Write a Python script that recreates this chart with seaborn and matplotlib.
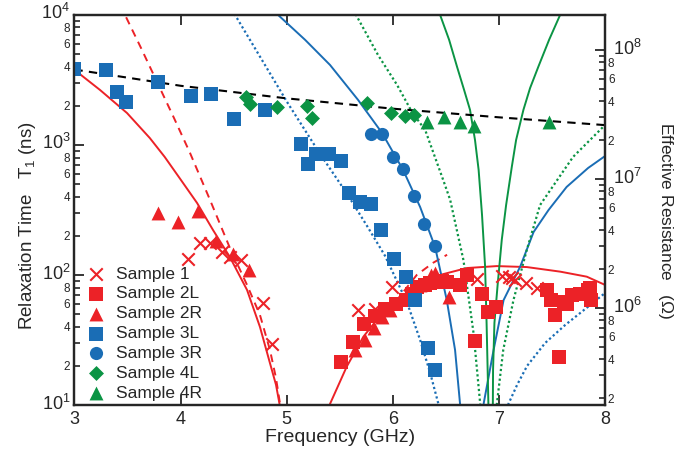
import numpy as np
import pandas as pd
import matplotlib
matplotlib.use("Agg")
from matplotlib import pyplot as plt
from matplotlib import ticker
from matplotlib import transforms
import seaborn as sns

s1_f = [4.07, 4.18, 4.28, 4.39, 4.47, 4.57, 4.78, 4.86,
        5.67, 5.83, 5.99, 6.79, 7.03, 7.09, 7.12, 7.15, 7.25, 7.36]
s1_t = [132, 177, 177, 151, 138, 130, 60.5, 29.2,
        54, 55, 81, 93, 99, 96, 95, 91, 86, 79]

s2l_f = [5.51, 5.62, 5.73, 5.83, 5.93, 6.03, 6.12, 6.18, 6.23, 6.30, 6.35, 6.41,
         6.46, 6.51, 6.63, 6.70, 6.77, 6.84, 6.90, 6.97, 7.45, 7.49, 7.53, 7.57,
         7.61, 7.64, 7.69, 7.76, 7.84, 7.86, 7.87]
s2l_t = [21.5, 30.7, 42.3, 48.4, 55, 60, 64, 72, 81, 84, 86, 89,
         90, 89, 83, 100, 31, 72, 52, 57, 77, 64, 49, 23.5,
         62, 60, 70, 72, 77, 79, 64]

s2r_f = [3.79, 3.98, 4.16, 4.33, 4.49, 4.64,
         5.64, 5.74, 5.82, 5.90, 5.97, 6.12, 6.26, 6.36, 6.40, 6.44, 6.53]
s2r_t = [299, 257, 310, 182, 145, 109,
         26.5, 31.6, 39.4, 47.3, 53.7, 69, 84, 100, 104, 91, 68]

s3l_f = [3.00, 3.30, 3.40, 3.49, 3.79, 4.10, 4.29, 4.50, 4.80, 5.13, 5.20, 5.28,
         5.40, 5.51, 5.59, 5.69, 5.79, 5.89, 6.01, 6.12, 6.21, 6.33, 6.40]
s3l_t = [3840, 3770, 2570, 2150, 3070, 2360, 2470, 1580, 1840, 1020, 714, 847,
         847, 756, 430, 366, 350, 222, 132, 97, 64, 27.6, 18.6]

s3r_f = [5.79, 5.90, 6.00, 6.10, 6.20, 6.29, 6.40]
s3r_t = [1210, 1210, 813, 658, 408, 245, 167]

s4l_f = [4.62, 4.65, 4.91, 5.19, 5.24, 5.76, 5.98, 6.11, 6.20]
s4l_t = [2330, 2060, 1970, 2000, 1620, 2110, 1750, 1670, 1700]

s4r_f = [6.32, 6.48, 6.63, 6.76, 7.47]
s4r_t = [1510, 1630, 1510, 1400, 1490]

# ---- model curves ----
blk_f = [3.0, 4.0, 5.0, 6.0, 7.0, 8.0]
blk_t = [3800, 2850, 2280, 1900, 1630, 1420]

red_sl_f = [3.00, 3.24, 3.495, 3.71, 3.85, 3.99, 4.155, 4.305, 4.465, 4.626,
            4.748, 4.842, 4.899, 4.932, 4.946]
red_sl_t = [3780, 2650, 1760, 1130, 809, 557, 358, 222, 137, 76.7,
            39.8, 21, 14.3, 10.2, 8.4]
red_sr_f = [5.389, 5.408, 5.565, 5.722, 5.91, 6.161, 6.444, 6.696, 6.979,
            7.262, 7.578, 7.827, 8.0]
red_sr_t = [8.4, 10.2, 19.7, 33.5, 52.2, 76.7, 100, 113, 117,
            115, 106, 97, 83.8]
red_dl_f = [3.43, 3.476, 3.627, 3.778, 3.938, 4.089, 4.277, 4.465, 4.626,
            4.748, 4.842, 4.899, 4.937, 4.951]
red_dl_t = [11900, 10000, 5570, 3050, 1610, 867, 378, 161, 83.8,
            49.2, 26.5, 16.1, 10.2, 8.4]
red_dr_f = [5.832, 6.037, 6.225, 6.379, 6.511]
red_dr_t = [45, 64, 100, 124, 143]

blu_sl_f = [4.88, 4.918, 5.173, 5.408, 5.672, 5.898, 6.096, 6.257, 6.398,
            6.508, 6.586, 6.633, 6.643]
blu_sl_t = [11900, 10000, 6430, 4120, 2220, 1237, 643, 333, 164,
            64, 26.5, 10.2, 8.4]
blu_sr_f = [6.845, 6.855, 6.949, 7.043, 7.20, 7.326, 7.467, 7.637, 7.84, 8.0]
blu_sr_t = [8.4, 10.2, 26.5, 64, 116, 214, 316, 475, 665, 822]
blu_dl_f = [4.466, 4.513, 5.003, 5.314, 5.569, 5.757, 5.927, 6.135, 6.257,
            6.352, 6.429, 6.445]
blu_dl_t = [11900, 10000, 2140, 853, 420, 238, 140, 61, 31.6,
            17.6, 10.2, 8.4]
blu_dr_f = [7.076, 7.089, 7.171, 7.265, 7.435, 7.623, 7.859, 8.0]
blu_dr_t = [8.4, 10.2, 14.3, 20, 30, 41.2, 58.7, 72.8]

grn_sl_f = [6.426, 6.445, 6.53, 6.605, 6.671, 6.727, 6.774, 6.808, 6.84,
            6.869, 6.883, 6.893, 6.90, 6.902]
grn_sl_t = [11900, 10000, 6430, 3980, 2650, 1860, 1090, 643, 290,
            116, 42.8, 18.6, 10.2, 8.4]
grn_sr_f = [7.604, 7.576, 7.472, 7.371, 7.293, 7.23, 7.161, 7.121, 7.067,
            7.026, 6.987, 6.957, 6.944, 6.942, 6.94]
grn_sr_t = [11900, 10000, 6430, 4000, 2740, 1860, 1090, 681, 345,
            186, 83.8, 42.8, 18.6, 10.2, 8.4]
grn_dl_f = [5.615, 5.653, 5.86, 6.04, 6.18, 6.305, 6.474, 6.54, 6.665,
            6.76, 6.823, 6.833]
grn_dl_t = [11900, 10000, 4920, 2890, 1790, 1300, 538, 378, 130,
            35.8, 10.2, 8.4]
grn_dr_f = [6.973, 6.98, 7.04, 7.136, 7.262, 7.387, 7.698, 8.0]
grn_dr_t = [8.4, 10.2, 26.5, 64, 156, 345, 809, 1426]

RED = "#ec2227"
BLUE = "#1a6db5"
GREEN = "#0b9444"

sns.set_style("ticks")
plt.rcParams["font.family"] = ["Liberation Sans", "DejaVu Sans"]
plt.rcParams["mathtext.fontset"] = "custom"
plt.rcParams["mathtext.rm"] = "Liberation Sans"
plt.rcParams["mathtext.it"] = "Liberation Sans:italic"
plt.rcParams["mathtext.bf"] = "Liberation Sans:bold"

fig = plt.figure(figsize=(6.83, 4.51), dpi=100)
ax = fig.add_axes([0.109, 0.102, 0.777, 0.865])
ax.set_yscale("log")

def curve(f, t, color, ls, lw=1.4):
    d = pd.DataFrame({"f": f, "t": t})
    sns.lineplot(data=d, x="f", y="t", sort=False, estimator=None, color=color,
                 linestyle=ls, linewidth=lw, ax=ax, zorder=2)

curve(red_sl_f, red_sl_t, RED, "-")
curve(red_sr_f, red_sr_t, RED, "-")
curve(red_dl_f, red_dl_t, RED, (0, (4, 3)))
curve(red_dr_f, red_dr_t, RED, (0, (4, 3)))
curve(blu_sl_f, blu_sl_t, BLUE, "-")
curve(blu_sr_f, blu_sr_t, BLUE, "-")
curve(blu_dl_f, blu_dl_t, BLUE, (0, (1, 1.2)), 1.6)
curve(blu_dr_f, blu_dr_t, BLUE, (0, (1, 1.2)), 1.6)
curve(grn_sl_f, grn_sl_t, GREEN, "-")
curve(grn_sr_f, grn_sr_t, GREEN, "-")
curve(grn_dl_f, grn_dl_t, GREEN, (0, (1, 1.2)), 1.6)
curve(grn_dr_f, grn_dr_t, GREEN, (0, (1, 1.2)), 1.6)
curve(blk_f, blk_t, "black", (0, (4, 3)), 1.5)

samples = [
    (s1_f, s1_t, RED, "x", 80, "Sample 1"),
    (s2l_f, s2l_t, RED, "s", 90, "Sample 2L"),
    (s2r_f, s2r_t, RED, "^", 100, "Sample 2R"),
    (s3l_f, s3l_t, BLUE, "s", 90, "Sample 3L"),
    (s3r_f, s3r_t, BLUE, "o", 90, "Sample 3R"),
    (s4l_f, s4l_t, GREEN, "D", 58, "Sample 4L"),
    (s4r_f, s4r_t, GREEN, "^", 100, "Sample 4R"),
]
for f, t, c, m, s, lab in samples:
    lw = 1.5 if m == "x" else 0
    sns.scatterplot(x=f, y=t, marker=m, s=s, color=c, linewidth=lw,
                    ax=ax, label=lab, zorder=3)

ax.set_xlim(3, 8)
ax.set_ylim(10, 1e4)
ax.set_xticks([3, 4, 5, 6, 7, 8])
ax.xaxis.set_major_formatter(ticker.FormatStrFormatter("%d"))

def minor_label(v, p):
    k = round(v / 10 ** np.floor(np.log10(v) + 1e-9))
    return "%d" % k if k in (2, 4, 6, 8) else ""

minor_fmt = ticker.FuncFormatter(minor_label)
major_fmt = ticker.FuncFormatter(
    lambda v, p: r"$\mathregular{10^{%d}}$" % round(np.log10(v)))

ax.yaxis.set_major_locator(ticker.LogLocator(base=10, numticks=10))
ax.yaxis.set_minor_locator(ticker.LogLocator(base=10, subs=np.arange(2, 10), numticks=10))
ax.yaxis.set_major_formatter(major_fmt)
ax.yaxis.set_minor_formatter(minor_fmt)

ax.tick_params(axis="both", which="major", direction="in", length=7, width=1.3,
               labelsize=13, pad=3)
ax.tick_params(axis="y", which="minor", direction="in", length=4.5, width=1.2,
               labelsize=8.5, pad=3)
ax.tick_params(axis="x", top=True, which="major", pad=4)
ax.tick_params(axis="x", which="minor", bottom=False, top=False)

ax.set_xlabel("Frequency (GHz)", fontsize=14, labelpad=1)
ax.set_ylabel(r"Relaxation Time   T$_\mathregular{1}$ (ns)", fontsize=13.5)
ax.yaxis.set_label_coords(-0.068, 0.46)

ax2 = ax.twinx()
ax2.set_yscale("log")
ax2.set_ylim(1.77e5, 1.87e8)
ax2.yaxis.set_major_locator(ticker.LogLocator(base=10, numticks=10))
ax2.yaxis.set_minor_locator(ticker.LogLocator(base=10, subs=np.arange(2, 10), numticks=10))
ax2.yaxis.set_major_formatter(major_fmt)
ax2.yaxis.set_minor_formatter(minor_fmt)
ax2.tick_params(axis="y", which="major", direction="in", length=7, width=1.3,
                labelsize=13, pad=6)
ax2.tick_params(axis="y", which="minor", direction="in", length=4.5, width=1.2,
                labelsize=8.5, pad=2)
ax2.set_ylabel(r"Effective Resistance   ($\Omega$)", fontsize=12.5,
               rotation=270, va="bottom")
ax2.yaxis.set_label_coords(1.095, 0.472)

# lift the decade labels a little so they clear the small digits below
lift = transforms.ScaledTranslation(0, 2.5 / 72, fig.dpi_scale_trans)
for a in (ax, ax2):
    for lbl in a.yaxis.get_majorticklabels():
        lbl.set_transform(lbl.get_transform() + lift)
    for sp in a.spines.values():
        sp.set_linewidth(1.6)

leg = ax.legend(loc="lower left", bbox_to_anchor=(-0.015, -0.02), frameon=False,
                fontsize=12.5, handletextpad=0.15, labelspacing=0.27,
                borderaxespad=0.3, markerscale=1.0)

fig.savefig("out.png", dpi=100)
